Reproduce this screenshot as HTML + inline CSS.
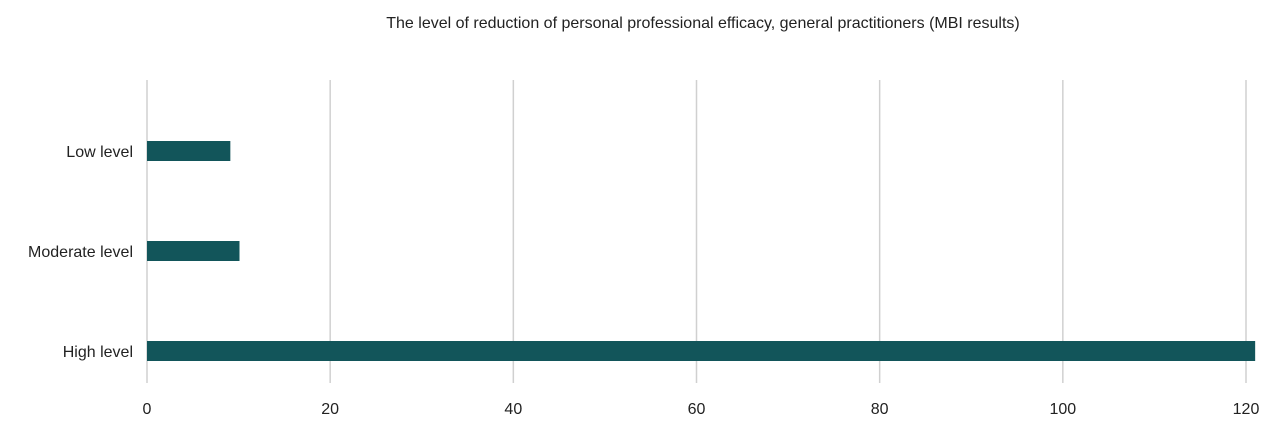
<!DOCTYPE html>
<html><head><meta charset="utf-8"><style>
html,body{margin:0;padding:0;background:#fff;}
svg{display:block;font-family:"Liberation Sans",sans-serif;}
</style></head><body>
<svg width="1270" height="428">
<text x="703" y="28" text-anchor="middle" font-size="16" fill="#222">The level of reduction of personal professional efficacy, general practitioners (MBI results)</text>
<g id="grid"></g><g id="bars"></g><g id="labels"></g>
</svg>
<script>
const categories=["Low level","Moderate level","High level"];
const values=[9.1,10.1,121];
const ticks=[0,20,40,60,80,100,120];
const x0=147,x1=1246,xmax=120;
const xs=v=>x0+(x1-x0)*v/xmax;
const ys=i=>151+i*100;
const NS="http://www.w3.org/2000/svg";
const grid=document.getElementById('grid'),bars=document.getElementById('bars'),labels=document.getElementById('labels');
ticks.forEach(t=>{
 const l=document.createElementNS(NS,'line');
 
 
 l.setAttribute('x1',xs(t));l.setAttribute('x2',xs(t));l.setAttribute('y1',80);l.setAttribute('y2',383);
 l.setAttribute('stroke','#d0d0d0');l.setAttribute('stroke-width','1.5');grid.appendChild(l);
 const tx=document.createElementNS(NS,'text');
 
 
 tx.setAttribute('x',xs(t));tx.setAttribute('y',414);tx.setAttribute('text-anchor','middle');tx.setAttribute('font-size','16');tx.setAttribute('fill','#222');
 tx.textContent=t;labels.appendChild(tx);
});
categories.forEach((c,i)=>{
 const r=document.createElementNS(NS,'rect');
 
 
 r.setAttribute('x',xs(0));r.setAttribute('y',ys(i)-10);r.setAttribute('width',xs(values[i])-xs(0));r.setAttribute('height',20);
 r.setAttribute('fill','#12555a');bars.appendChild(r);
 const tx=document.createElementNS(NS,'text');
 
 
 tx.setAttribute('x',133);tx.setAttribute('y',ys(i)+6);tx.setAttribute('text-anchor','end');tx.setAttribute('font-size','16');tx.setAttribute('fill','#222');
 tx.textContent=c;labels.appendChild(tx);
});
</script>
</body></html>
